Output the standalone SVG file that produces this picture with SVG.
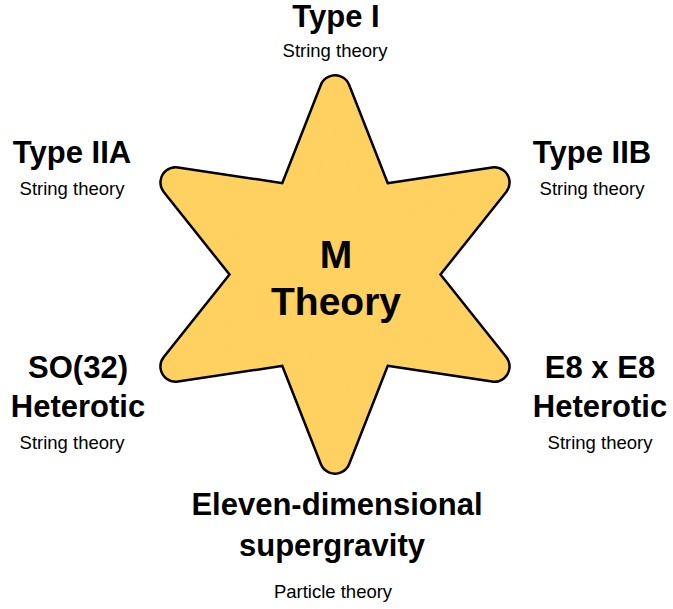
<svg xmlns="http://www.w3.org/2000/svg" width="673" height="609" viewBox="0 0 673 609">
<style>
text{font-family:"Liberation Sans",Arial,sans-serif;text-anchor:middle;fill:#000}
.t{font-size:31px;font-weight:bold}
.s{font-size:18.5px}
.m{font-size:39px;font-weight:bold}
</style>
<defs><polygon id="star" points="335,90.5 378,200 494.3,182.5 421,274.5 494.3,366.5 378,349 335,458.5 292,349 175.7,366.5 249,274.5 175.7,182.5 292,200"/></defs>
<rect width="673" height="609" fill="#fff"/>
<g id="mtheory">
<use href="#star" fill="#000" stroke="#000" stroke-width="33" stroke-linejoin="round"/>
<use href="#star" fill="#FED160" stroke="#FED160" stroke-width="28" stroke-linejoin="round"/>
<text class="m" x="336" y="268">M</text>
<text class="m" x="336" y="315">Theory</text>
</g>
<g id="connectors"></g>
<g id="type1"><text class="t" x="336" y="27">Type I</text><text class="s" x="335" y="57">String theory</text></g>
<g id="type2a"><text class="t" x="72" y="163">Type IIA</text><text class="s" x="72" y="195">String theory</text></g>
<g id="type2b"><text class="t" x="592" y="163">Type IIB</text><text class="s" x="592" y="195">String theory</text></g>
<g id="so32"><text class="t" x="78" y="378">SO(32)</text><text class="t" x="78" y="417">Heterotic</text><text class="s" x="72" y="449">String theory</text></g>
<g id="e8"><text class="t" x="600" y="378">E8 x E8</text><text class="t" x="600" y="417">Heterotic</text><text class="s" x="600" y="449">String theory</text></g>
<g id="sugra"><text class="t" x="337" y="515">Eleven-dimensional</text><text class="t" x="332" y="556">supergravity</text><text class="s" x="333" y="598">Particle theory</text></g>
</svg>
